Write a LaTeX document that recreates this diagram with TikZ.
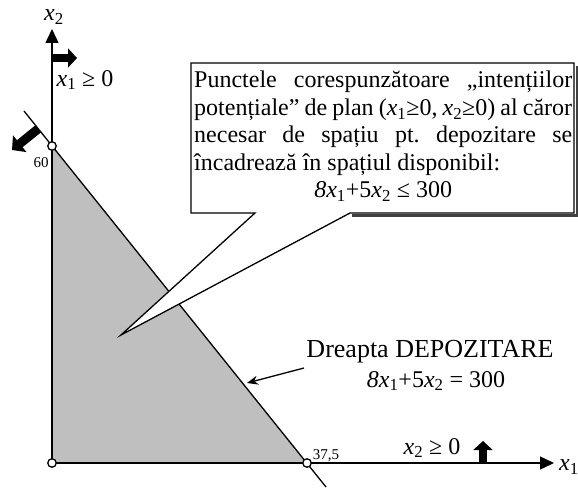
\documentclass[tikz,border=0pt]{standalone}
\usepackage{fontspec}
\setmainfont{Liberation Serif}
\usetikzlibrary{arrows.meta}
\newcommand\xv[1]{\textit{x}\textsubscript{#1}}
\frenchspacing
\begin{document}
\begin{tikzpicture}[x=1pt,y=-1pt,
  axis/.style={line width=1.4pt,-{Triangle[length=14pt,width=13pt]}},
  blockarrow/.style={line width=8pt,-{Triangle[length=9pt,width=19pt]}},
  vtx/.style={circle,draw,fill=white,line width=1.3pt,inner sep=0pt,minimum size=8.5pt},
  lbl/.style={inner sep=0pt,font=\fontsize{24}{28}\selectfont},
  small/.style={inner sep=0pt,font=\fontsize{15}{17}\selectfont},
  callout/.style={draw,fill=white,line width=1.3pt,line join=miter},
  ctext/.style={anchor=base west,inner sep=0pt,font=\fontsize{24}{28}\selectfont}]
\useasboundingbox (0,0) rectangle (578,489);
% key points
\coordinate (O) at (52,463);
\coordinate (A) at (52,146);
\coordinate (B) at (307,463);
\coordinate (X1) at (554,463);
\coordinate (X2) at (52,29);
\coordinate (L1) at (24,111);
\coordinate (L2) at (326,487);
% feasible region
\fill[black!25] (O) -- (A) -- (B) -- cycle;
% constraint line
\draw[line width=1.3pt] (L1) -- (L2);
% callout
\coordinate (T) at (121,335);
\coordinate (C1) at (191,63);
\coordinate (C2) at (574,63);
\coordinate (C3) at (574,213);
\coordinate (C4) at (350,213);
\coordinate (C5) at (255,213);
\coordinate (C6) at (191,213);
\draw[line width=2pt,black!75] (576.5,66) -- (576.5,215.5) -- (352,215.5);
\draw[callout] (C1) -- (C2) -- (C3) -- (C4) -- (T) -- (C5) -- (C6) -- cycle;
\node[ctext] (t1) at (194,88) {\makebox[378pt][s]{Punctele corespunzătoare „intențiilor}};
\node[ctext] (t2) at (194,115.5) {\makebox[378pt][s]{potențiale” de plan (\xv{1}≥0, \xv{2}≥0) al căror}};
\node[ctext] (t3) at (194,143) {\makebox[378pt][s]{necesar de spațiu pt. depozitare se}};
\node[ctext] (t4) at (194,170.5) {încadrează în spațiul disponibil:};
\node[ctext] (t5) at (194,198) {\makebox[378pt][c]{\textit{8x}\textsubscript{1}+5\xv{2} ≤ 300}};
% axes
\draw[axis] (O) -- (X1);
\draw[axis] (O) -- (X2);
\node[lbl] (x2lab) at (54,17) {\xv{2}};
\node[lbl,anchor=west] (x1lab) at (559,467) {\xv{1}};
% vertices
\node[vtx] (vO) at (O) {};
\node[vtx] (vA) at (A) {};
\node[vtx] (vB) at (B) {};
\node[small] (l60) at (41,163) {60};
\node[small] (l375) at (326,456) {37,5};
% block arrows
\coordinate (ba1s) at (52,58);
\coordinate (ba1e) at (77,58);
\draw[blockarrow] (ba1s) -- (ba1e);
\node[lbl] (c1) at (85,80) {\xv{1} ≥ 0};
\coordinate (ba2s) at (483,463);
\coordinate (ba2e) at (483,441);
\draw[blockarrow] (ba2s) -- (ba2e);
\node[lbl] (c2) at (432,448) {\xv{2} ≥ 0};
\coordinate (ba3s) at (38,129);
\coordinate (ba3e) at (12,150);
\draw[line width=9pt,-{Triangle[length=10pt,width=21pt]}] (ba3s) -- (ba3e);
% line label
\node[inner sep=0pt,font=\fontsize{26}{30}\selectfont] (dr) at (430,352) {Dreapta DEPOZITARE};
\node[inner sep=0pt,font=\fontsize{24}{28}\selectfont] (eq) at (436,381) {\textit{8x}\textsubscript{1}+5\xv{2} = 300};
\coordinate (pa) at (304,368);
\coordinate (pb) at (247,383);
\draw[line width=1.3pt,-{Stealth[length=11pt,width=9pt]}] (pa) -- (pb);
\end{tikzpicture}
\end{document}
